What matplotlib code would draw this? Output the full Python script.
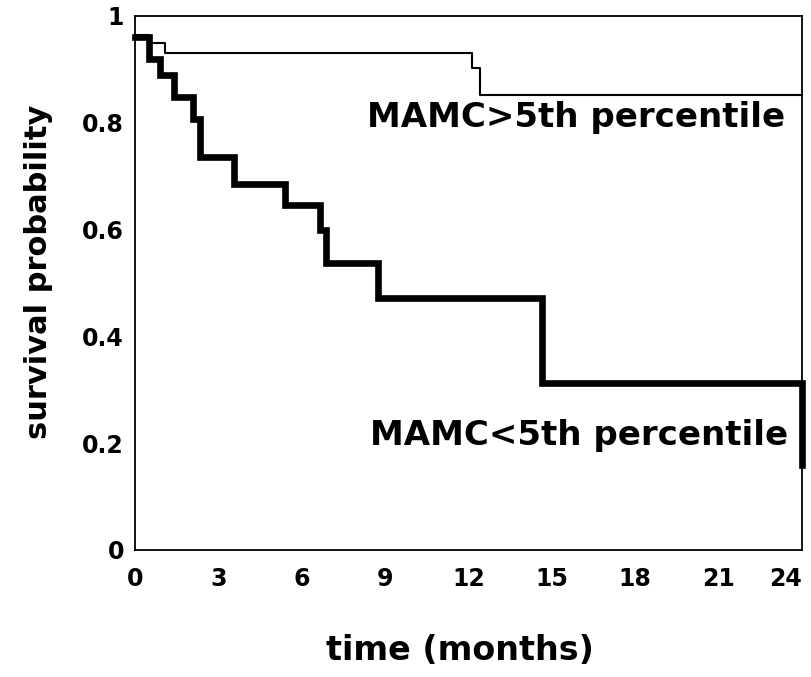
import matplotlib
matplotlib.use("Agg")
import matplotlib.pyplot as plt

# Kaplan-Meier step data (time in months, survival probability)
above_times = [0, 0.5, 1.08, 12.11, 12.41, 24]
above_surv = [0.965, 0.95, 0.931, 0.903, 0.852, 0.852]

below_times = [0, 0.5, 0.9, 1.4, 2.1, 2.35, 3.55, 5.4, 6.65, 6.88, 8.75, 14.63, 24, 24]
below_surv = [0.961, 0.92, 0.889, 0.848, 0.808, 0.736, 0.685, 0.646, 0.60, 0.538, 0.472, 0.313, 0.313, 0.16]

x_ticks = [0, 3, 6, 9, 12, 15, 18, 21, 24]
y_ticks = [0, 0.2, 0.4, 0.6, 0.8, 1]
y_tick_labels = ["0", "0.2", "0.4", "0.6", "0.8", "1"]

plt.rcParams['font.family'] = ['DejaVu Sans']
plt.rcParams['font.weight'] = 'bold'

fig = plt.figure(figsize=(8.11, 6.77), dpi=100)
ax = fig.add_axes([0.1665, 0.1876, 0.8224, 0.7888])

ax.step(above_times, above_surv, where='post', color='black', lw=1.5, clip_on=False)
ax.step(below_times, below_surv, where='post', color='black', lw=4.8, clip_on=False,
        solid_joinstyle='miter')

ax.set_xlim(0, 24)
ax.set_ylim(0, 1)
ax.set_xticks(x_ticks)
ax.set_xticklabels([str(t) for t in x_ticks])
ax.set_yticks(y_ticks)
ax.set_yticklabels(y_tick_labels)
ax.tick_params(length=0, labelsize=17, pad=12)
ax.tick_params(axis='y', pad=8)
for lab in ax.get_xticklabels() + ax.get_yticklabels():
    lab.set_fontweight('bold')
ax.get_xticklabels()[-1].set_ha('right')
for sp in ax.spines.values():
    sp.set_linewidth(1.3)

ax.set_xlabel("time (months)", fontsize=24, fontweight='bold', va='center')
ax.xaxis.set_label_coords(0.487, -0.189)
ax.set_ylabel("survival probability", fontsize=22, fontweight='bold', va='center')
ax.yaxis.set_label_coords(-0.145, 0.52)

ax.text(23.4, 0.809, "MAMC>5th percentile", ha='right', va='center',
        fontsize=24.5, fontweight='bold')
ax.text(23.5, 0.215, "MAMC<5th percentile", ha='right', va='center',
        fontsize=24.5, fontweight='bold')

fig.savefig("out.png", dpi=100)
